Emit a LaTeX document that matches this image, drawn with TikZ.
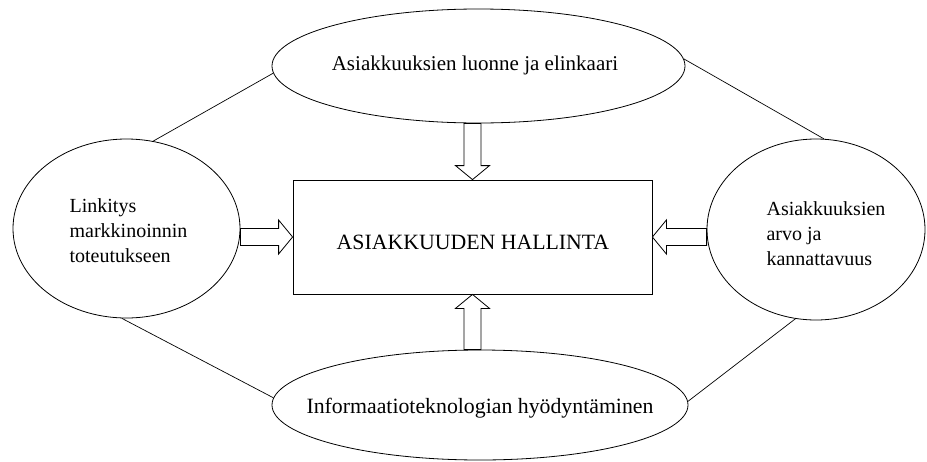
\documentclass[tikz,border=0pt]{standalone}
\usepackage{fontspec}
\setmainfont{Liberation Serif}
\usetikzlibrary{shapes.geometric,calc}

\tikzset{
  outline/.style={draw=black, line width=0.8pt},
  topic/.style={outline, ellipse, inner sep=0pt, fill=white},
  core/.style={outline, rectangle, inner sep=0pt, fill=white},
  caption/.style={font=\fontsize{20}{25}\selectfont, inner sep=0pt},
  wide caption/.style={font=\fontsize{#1}{25}\selectfont, inner sep=0pt},
  link/.style={draw=black, line width=0.7pt},
  fat/.style={draw=black, line width=0.8pt, fill=white, line join=miter}
}

% hollow block arrow from #1 to the tip #2
\newcommand\fatarrow[2]{%
  \coordinate (hb) at ($(#2)!14pt!(#1)$);
  \draw[fat] ($(#1)!8.5pt!-90:(#2)$) -- ($(hb)!8.5pt!90:(#1)$)
    -- ($(hb)!17pt!90:(#1)$) -- (#2) -- ($(hb)!17pt!-90:(#1)$)
    -- ($(hb)!8.5pt!-90:(#1)$) -- ($(#1)!8.5pt!90:(#2)$) -- cycle;
}

\begin{document}
\begin{tikzpicture}[x=1pt, y=-1pt]
  \useasboundingbox (0,0) rectangle (927,461);

  % surrounding topics
  \node[topic, minimum width=413pt, minimum height=114pt] (top) at (478.5,66) {};
  \node[topic, minimum width=416pt, minimum height=110pt] (bottom) at (480,405) {};
  \node[topic, minimum width=227pt, minimum height=179pt] (left) at (126.5,228.5) {};
  \node[topic, minimum width=218pt, minimum height=181pt] (right) at (816,229.5) {};

  % central box
  \node[core, minimum width=359pt, minimum height=114pt] (box) at (472.5,237) {};

  % thin links between neighbouring topics
  \draw[link] (left.73.6) -- (top.182);
  \draw[link] (top.2.2) -- (right.85.6);
  \draw[link] (left.267.4) -- (bottom.178.3);
  \draw[link] (right.257.8) -- (bottom.1.4);

  % texts
  \node[wide caption=21, anchor=base] (toptext) at (475,70) {Asiakkuuksien luonne ja elinkaari};
  \node[wide caption=21.8, anchor=base] (bottomtext) at (480,413) {Informaatioteknologian hyödyntäminen};
  \node[wide caption=21.8, anchor=base] (boxtext) at (473,249) {ASIAKKUUDEN HALLINTA};
  \node[caption, align=left] (lefttext) at (128.5,231) {Linkitys\\markkinoinnin\\toteutukseen};
  \node[caption, align=left] (righttext) at (826,234) {Asiakkuuksien\\arvo ja\\kannattavuus};

  % block arrows into the box
  \coordinate (ta) at (box.north |- top.south);
  \coordinate (ba) at (box.south |- bottom.north);
  \coordinate (la) at (left.east |- box.west);
  \coordinate (ra) at (right.west |- box.east);
  \fatarrow{ta}{box.north}
  \fatarrow{ba}{box.south}
  \fatarrow{la}{box.west}
  \fatarrow{ra}{box.east}
\end{tikzpicture}
\end{document}
